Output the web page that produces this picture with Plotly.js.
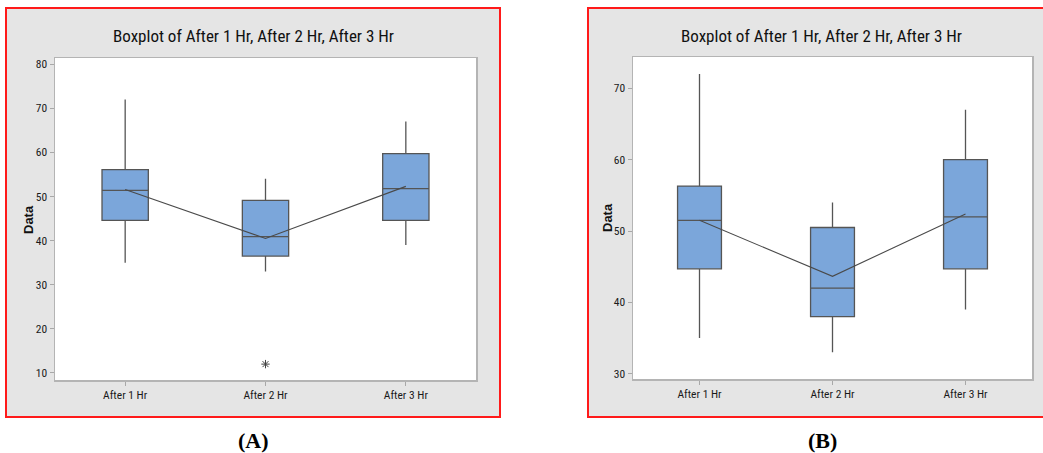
<!DOCTYPE html>
<html>
<head>
<meta charset="utf-8">
<script src="https://cdn.plot.ly/plotly-3.0.1.min.js"></script>
<style>html,body{margin:0;padding:0;background:#fff;}#chart{width:1043px;height:453px;}</style>
</head>
<body>
<div id="chart"></div>
<script>
// ---- data ----
const categories = ["After 1 Hr", "After 2 Hr", "After 3 Hr"];
// Panel A (with outlier)
const a_lowerWhisker = [35, 33, 39];
const a_q1 = [44.6, 36.5, 44.6];
const a_median = [51.4, 40.9, 51.8];
const a_q3 = [56.1, 49.1, 59.7];
const a_upperWhisker = [72, 54, 67];
const a_mean = [51.6, 40.5, 52.3];
const a_outlierCategory = ["After 2 Hr"];
const a_outlierValue = [12];
// Panel B (outlier removed)
const b_lowerWhisker = [35, 33, 39];
const b_q1 = [44.7, 38, 44.7];
const b_median = [51.5, 42, 52];
const b_q3 = [56.3, 50.5, 60];
const b_upperWhisker = [72, 54, 67];
const b_mean = [51.5, 43.65, 52.4];
const titleText = "Boxplot of After 1 Hr, After 2 Hr, After 3 Hr";
const yTitle = "Data";
const panelLabels = ["(A)", "(B)"];

// ---- layout helpers ----
const W = 1043, H = 453;
const px = v => v / W;
const py = v => 1 - v / H;

const boxFill = "#7ba6da";
const boxLine = "#555555";
const cond = "'Roboto Condensed', 'DejaVu Sans Condensed', Roboto, sans-serif";

function boxTrace(xa, ya, q1, med, q3, lo, hi) {
  return {
    type: "box", xaxis: xa, yaxis: ya,
    x: categories, q1: q1, median: med, q3: q3,
    lowerfence: lo, upperfence: hi,
    boxpoints: false, width: 0.33, whiskerwidth: 0,
    fillcolor: boxFill, line: {color: boxLine, width: 1.3},
    hoverinfo: "skip", showlegend: false
  };
}
function meanTrace(xa, ya, m) {
  return {
    type: "scatter", mode: "lines", xaxis: xa, yaxis: ya,
    x: categories, y: m, line: {color: "#4a4a4a", width: 1.1},
    hoverinfo: "skip", showlegend: false
  };
}

const traces = [
  boxTrace("x", "y", a_q1, a_median, a_q3, a_lowerWhisker, a_upperWhisker),
  meanTrace("x", "y", a_mean),
  {
    type: "scatter", mode: "markers", xaxis: "x", yaxis: "y",
    x: a_outlierCategory, y: a_outlierValue,
    marker: {symbol: "asterisk-open", size: 7, color: "#444", line: {color: "#444", width: 1}},
    hoverinfo: "skip", showlegend: false
  },
  boxTrace("x2", "y2", b_q1, b_median, b_q3, b_lowerWhisker, b_upperWhisker),
  meanTrace("x2", "y2", b_mean)
];

const axCommon = {
  showline: true, mirror: true, linecolor: "#b4b4b4", linewidth: 1.5,
  ticks: "outside", ticklen: 4, tickcolor: "#a8a8a8", tickwidth: 1,
  showgrid: false, zeroline: false, fixedrange: true,
  tickfont: {family: cond, size: 11.5, color: "#1a1a1a"}
};

const layout = {
  width: W, height: H,
  margin: {l: 0, r: 0, t: 0, b: 0},
  paper_bgcolor: "#ffffff", plot_bgcolor: "#ffffff",
  showlegend: false,
  xaxis: Object.assign({}, axCommon, {domain: [px(55), px(476)], anchor: "y", type: "category", range: [-0.5, 2.5]}),
  yaxis: Object.assign({}, axCommon, {domain: [py(380), py(58)], anchor: "x", range: [8.4, 81.4], tickvals: [10, 20, 30, 40, 50, 60, 70, 80]}),
  xaxis2: Object.assign({}, axCommon, {domain: [px(633), px(1032)], anchor: "y2", type: "category", range: [-0.5, 2.5]}),
  yaxis2: Object.assign({}, axCommon, {domain: [py(379), py(57)], anchor: "x2", range: [29.26, 74.4], tickvals: [30, 40, 50, 60, 70]}),
  shapes: [
    {type: "rect", xref: "paper", yref: "paper", layer: "below",
     x0: px(6), x1: px(500), y0: py(417), y1: py(8),
     fillcolor: "#e5e5e5", line: {color: "#ff1a1a", width: 2}},
    {type: "rect", xref: "paper", yref: "paper", layer: "below",
     x0: px(588), x1: px(1060), y0: py(417), y1: py(8),
     fillcolor: "#e5e5e5", line: {color: "#ff1a1a", width: 2}},
    {type: "rect", xref: "x domain", yref: "y domain", layer: "below",
     x0: 0, x1: 1, y0: 0, y1: 1, fillcolor: "#ffffff", line: {width: 0}},
    {type: "rect", xref: "x2 domain", yref: "y2 domain", layer: "below",
     x0: 0, x1: 1, y0: 0, y1: 1, fillcolor: "#ffffff", line: {width: 0}}
  ],
  annotations: [
    {text: titleText, xref: "paper", yref: "paper", x: px(253), y: py(36), showarrow: false,
     xanchor: "center", yanchor: "middle", font: {family: cond, size: 17, color: "#111"}},
    {text: titleText, xref: "paper", yref: "paper", x: px(821), y: py(36), showarrow: false,
     xanchor: "center", yanchor: "middle", font: {family: cond, size: 17, color: "#111"}},
    {text: yTitle, xref: "paper", yref: "paper", x: px(28), y: py(220), showarrow: false, textangle: -90,
     xanchor: "center", yanchor: "middle", font: {family: "'Liberation Sans', Arial, sans-serif", size: 13, color: "#111", weight: "bold"}},
    {text: yTitle, xref: "paper", yref: "paper", x: px(607), y: py(218), showarrow: false, textangle: -90,
     xanchor: "center", yanchor: "middle", font: {family: "'Liberation Sans', Arial, sans-serif", size: 13, color: "#111", weight: "bold"}},
    {text: "<b>" + panelLabels[0] + "</b>", xref: "paper", yref: "paper", x: px(253), y: py(440), showarrow: false,
     xanchor: "center", yanchor: "middle", font: {family: "'Liberation Serif', 'Times New Roman', serif", size: 22, color: "#000"}},
    {text: "<b>" + panelLabels[1] + "</b>", xref: "paper", yref: "paper", x: px(822), y: py(440), showarrow: false,
     xanchor: "center", yanchor: "middle", font: {family: "'Liberation Serif', 'Times New Roman', serif", size: 22, color: "#000"}}
  ]
};

Plotly.newPlot("chart", traces, layout, {staticPlot: true, displayModeBar: false});
</script>
</body>
</html>
